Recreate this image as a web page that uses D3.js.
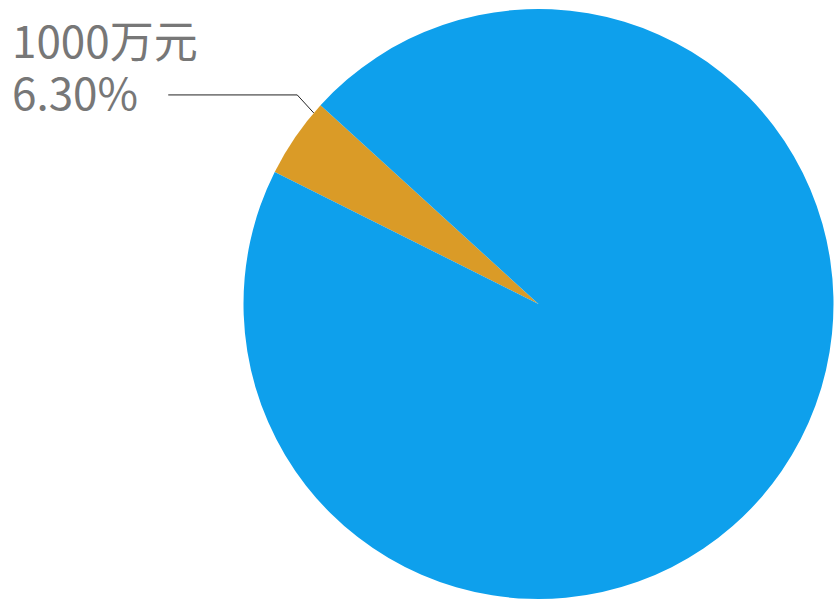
<!DOCTYPE html>
<html>
<head>
<meta charset="utf-8">
<script src="https://cdn.jsdelivr.net/npm/d3@7"></script>
<style>
  html, body { margin: 0; padding: 0; background: #fff; }
  svg { display: block; }
  .label { font-family: "Noto Sans CJK SC", "Open Sans", sans-serif; fill: #777; }
</style>
</head>
<body>
<script>
// slice data (label text kept as printed)
const categories = ["1000万元", "其他"];
const values = [4.38, 95.62];
const colors = ["#da9b27", "#0ea0ec"];
const percentLabels = ["6.30%", ""];

const width = 834;
const height = 600;
const cx = 538.5, cy = 304, r = 295;
// orange slice begins a bit past 296 degrees (clockwise from top)
const startDeg = 296.6;

const svg = d3.select("body").append("svg")
  .attr("width", width)
  .attr("height", height);

const pie = d3.pie()
  .sort(null)
  .startAngle(startDeg * Math.PI / 180)
  .endAngle(startDeg * Math.PI / 180 + 2 * Math.PI);

const arcs = pie(values);
const arc = d3.arc().innerRadius(0).outerRadius(r);

const g = svg.append("g").attr("transform", `translate(${cx},${cy})`);

g.selectAll("path")
  .data(arcs)
  .join("path")
  .attr("d", arc)
  .attr("fill", (d, i) => colors[i]);

// label for the small slice only, line starts near the slice's upper edge
const small = arcs[0];
const a0 = small.endAngle - 2 * Math.PI / 180;
const p0 = [Math.sin(a0) * r, -Math.cos(a0) * r];
// leader line: short diagonal then flat run to the left
const p1 = [p0[0] - 16.5, p0[1] - 18];
const p2 = [p1[0] - 129, p1[1]];

g.append("polyline")
  .attr("points", [p0, p1, p2].map(p => p.join(",")).join(" "))
  .attr("fill", "none")
  .attr("stroke", "#222")
  .attr("stroke-width", 1);

const text = svg.append("text")
  .attr("class", "label")
  .style("font-size", "44px");

text.append("tspan").attr("x", 12).attr("y", 58).text(categories[0]);
text.append("tspan").attr("x", 12).attr("y", 110).text(percentLabels[0]);
</script>
</body>
</html>
